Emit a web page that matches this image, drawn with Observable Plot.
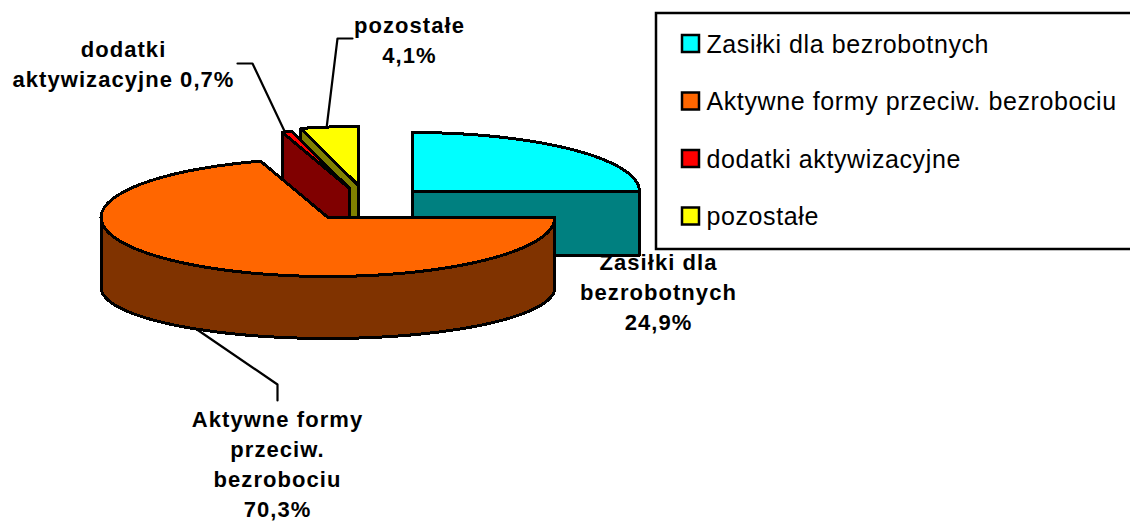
<!DOCTYPE html>
<html><head><meta charset="utf-8">
<script src="https://cdn.jsdelivr.net/npm/d3@7"></script>
<script src="https://cdn.jsdelivr.net/npm/@observablehq/plot@0.6"></script>
<style>
html,body{margin:0;padding:0;background:#fff;overflow:hidden}
svg{display:block}
.lab{letter-spacing:1.05px}
.leg{letter-spacing:.6px}
.pie path{shape-rendering:crispEdges}
</style></head><body><div id="c"></div>
<script>
const categories=["Zasiłki dla bezrobotnych","Aktywne formy przeciw. bezrobociu","dodatki aktywizacyjne","pozostałe"];
const values=[24.9,70.3,0.7,4.1];
const topColors=["#00ffff","#ff6600","#ff0000","#ffff00"];
const sideColors=["#008080","#803300","#800000","#808000"];
const labelLines=[["Zasiłki dla","bezrobotnych"],["Aktywne formy","przeciw.","bezrobociu"],["dodatki","aktywizacyjne"],["pozostałe"]];

// layout of the drawing
const rx=227, ry=59, depth=64;
const apex=[[412,191],[327.5,217],[349,188],[358,185]];
const total=d3.sum(values);
const cum=d3.cumsum(values);
const ang=i=>[(i?cum[i-1]:0)/total*2*Math.PI,cum[i]/total*2*Math.PI];
const rim=(i,a,dy=0,dr=0)=>({x:apex[i][0]+rx*Math.sin(a),y:apex[i][1]+dy-(ry+dr)*Math.cos(a)});
const arc=(i,a0,a1,dy,dr)=>d3.range(0,61).map(k=>rim(i,a0+(a1-a0)*k/60,dy,dr));
const at=i=>({x:apex[i][0],y:apex[i][1]});
const down=(p,d)=>({x:p.x,y:p.y+d});
const closed=p=>[...p,p[0]];
const poly=(pts,fill)=>Plot.line(closed(pts),{x:"x",y:"y",fill,stroke:"#000",strokeWidth:3,strokeLinejoin:"round",className:"pie"});
const face=i=>{const [a0,a1]=ang(i);return poly([at(i),...arc(i,a0,a1)],topColors[i]);};
const wall=(i,a)=>poly([at(i),rim(i,a),down(rim(i,a),depth),down(at(i),depth)],sideColors[i]);

const [oa0,oa1]=ang(1);
const frontEnd=3*Math.PI/2;
const frontTop=arc(1,oa0,frontEnd);
const frontBot=arc(1,oa0,frontEnd,70,-8).reverse();

// legend
const legX=682, legY=i=>44+i*57.5;
const legend=categories.map((name,i)=>({name,i,y:legY(i)}));
const pct=v=>d3.format(".1f")(v).replace(".",",")+"%";

const labels=[
 {text:labelLines[0].join("\n")+"\n"+pct(values[0]),x:658,y:248},
 {text:labelLines[1].join("\n")+"\n"+pct(values[1]),x:277,y:405},
 {text:labelLines[2][0]+"\n"+labelLines[2][1]+" "+pct(values[2]),x:123,y:35},
 {text:labelLines[3][0]+"\n"+pct(values[3]),x:409,y:11}
];
const rimPt=(i,f)=>{const [a0,a1]=ang(i);return rim(i,a0+(a1-a0)*f);};
const leaders=[
 [{x:195,y:328},{x:277,y:384},{x:277,y:400}],
 [{x:237,y:63},{x:252,y:63},rimPt(2,.3)],
 [{x:352,y:38},{x:337,y:38},{x:326,y:128}]
];

const marks=[
 Plot.text(labels,{x:"x",y:"y",text:"text",lineAnchor:"top",textAnchor:"middle",fontFamily:"Liberation Sans",fontWeight:"bold",fontSize:22,lineHeight:1.37,fill:"#000",className:"lab"}),
 ...leaders.map(l=>Plot.line(l,{x:"x",y:"y",stroke:"#000",strokeWidth:2.2})),
 face(0),wall(0,ang(0)[1]),
 face(3),wall(3,ang(3)[0]),
 wall(2,ang(2)[0]),face(2),
 poly([...frontTop,...frontBot],sideColors[1]),
 face(1),
 Plot.rect([{}],{x1:()=>656,x2:()=>1140,y1:()=>13,y2:()=>249,fill:"#fff",stroke:"#000",strokeWidth:2.5}),
 Plot.rect(legend,{x1:()=>legX,x2:()=>legX+17,y1:d=>d.y-9,y2:d=>d.y+8,fill:d=>topColors[d.i],stroke:"#000",strokeWidth:2.5}),
 Plot.text(legend,{x:()=>legX+24,y:"y",text:"name",textAnchor:"start",fontFamily:"Liberation Sans",fontSize:25,fill:"#000",className:"leg"})
];
const fig=Plot.plot({width:1130,height:522,margin:0,
 x:{domain:[0,1130],range:[0,1130],axis:null},
 y:{domain:[0,522],range:[0,522],axis:null},
 style:{background:"#fff"},
 marks});
document.getElementById("c").append(fig);
</script></body></html>
